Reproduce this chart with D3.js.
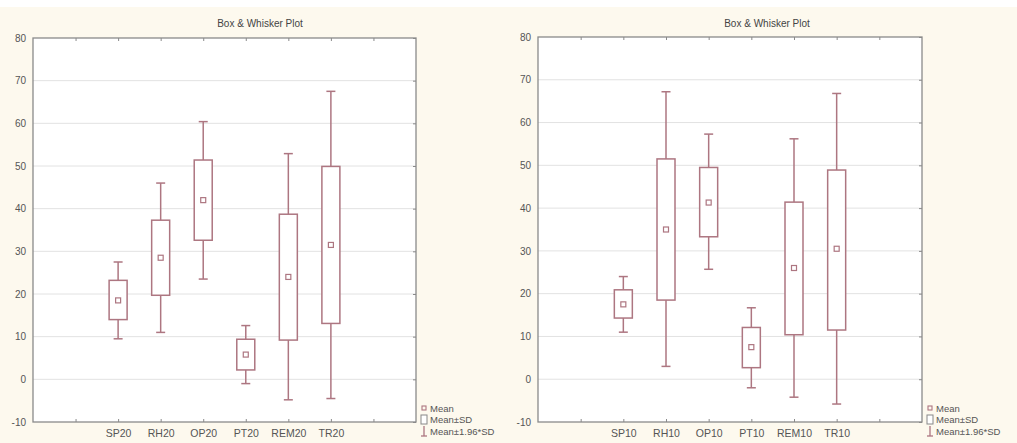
<!DOCTYPE html>
<html><head><meta charset="utf-8">
<script src="https://cdn.jsdelivr.net/npm/d3@7/dist/d3.min.js"></script>
<style>
html,body{margin:0;padding:0;background:#fff;}
svg{display:block;}
text{font-family:"Liberation Sans Narrow","Arial Narrow","Liberation Sans",Arial,sans-serif;}
</style></head>
<body>
<svg id="chart" width="1017" height="443"></svg>
<script>
const categoriesLeft = ["SP20","RH20","OP20","PT20","REM20","TR20"];
const meanLeft  = [18.5, 28.5, 42.0, 5.8, 24.0, 31.5];
const sdLoLeft  = [14.0, 19.7, 32.6, 2.2, 9.2, 13.1];
const sdHiLeft  = [23.2, 37.3, 51.4, 9.4, 38.7, 49.9];
const ciLoLeft  = [9.5, 11.0, 23.5, -1.0, -4.8, -4.5];
const ciHiLeft  = [27.5, 46.0, 60.4, 12.6, 52.9, 67.5];

const categoriesRight = ["SP10","RH10","OP10","PT10","REM10","TR10"];
const meanRight = [17.5, 35.0, 41.3, 7.5, 26.0, 30.5];
const sdLoRight = [14.3, 18.5, 33.3, 2.7, 10.4, 11.5];
const sdHiRight = [20.9, 51.5, 49.5, 12.1, 41.4, 48.9];
const ciLoRight = [11.0, 3.0, 25.7, -2.0, -4.2, -5.8];
const ciHiRight = [24.0, 67.2, 57.3, 16.7, 56.2, 66.8];

const yTicks = [-10, 0, 10, 20, 30, 40, 50, 60, 70, 80];
const titleText = "Box & Whisker Plot";
const legendLabels = ["Mean", "Mean\u00b1SD", "Mean\u00b11.96*SD"];

const svg = d3.select("#chart");
svg.append("rect").attr("x",0).attr("y",7).attr("width",1017).attr("height",436).attr("fill","#fdf9ee");

const boxColor = "#ad7681";
const axisColor = "#8a8a8a";
const gridColor = "#e2e2e2";
const textColor = "#555";

function panel(cfg){
  const {x0, x1, y0, y1, cats, mean, sdLo, sdHi, ciLo, ciHi, titleX} = cfg;
  const g = svg.append("g");
  const x = d3.scaleLinear().domain([0, 9]).range([x0, x1]);
  const y = d3.scaleLinear().domain([-10, 80]).range([y1, y0]);
  g.append("rect").attr("x",x0).attr("y",y0).attr("width",x1-x0).attr("height",y1-y0).attr("fill","#fff");
  g.selectAll("line.grid").data(yTicks.slice(1,-1)).join("line")
    .attr("x1",x0).attr("x2",x1).attr("y1",d=>y(d)).attr("y2",d=>y(d))
    .attr("stroke",gridColor).attr("stroke-width",1);
  const ax = g.append("g").attr("transform",`translate(${x0},0)`)
    .call(d3.axisLeft(y).tickValues(yTicks).tickSize(0).tickPadding(7).tickFormat(d => String(d)));
  ax.select(".domain").remove();
  ax.selectAll("text").attr("font-size",10).attr("fill",textColor);
  const xTickVals = d3.range(1,9);
  const bx = g.append("g").attr("transform",`translate(0,${y1})`)
    .call(d3.axisBottom(x).tickValues(xTickVals).tickSize(-3).tickPadding(8)
      .tickFormat(d => (d>=2 && d<=7) ? cats[d-2] : ""));
  bx.select(".domain").remove();
  bx.selectAll("line").attr("stroke",axisColor);
  bx.selectAll("text").attr("font-size",10.5).attr("fill",textColor);
  const tx = g.append("g").attr("transform",`translate(0,${y0})`)
    .call(d3.axisTop(x).tickValues(xTickVals).tickSize(-3).tickFormat(""));
  tx.select(".domain").remove();
  tx.selectAll("line").attr("stroke",axisColor);
  const ry = g.append("g").attr("transform",`translate(${x1},0)`)
    .call(d3.axisRight(y).tickValues(yTicks).tickSize(-3).tickFormat(""));
  ry.select(".domain").remove();
  ry.selectAll("line").attr("stroke",axisColor);
  g.append("rect").attr("x",x0).attr("y",y0).attr("width",x1-x0).attr("height",y1-y0)
    .attr("fill","none").attr("stroke",axisColor).attr("stroke-width",1.3);
  const data = cats.map((c,i)=>({i, pos:i+2, mean:mean[i], sdLo:sdLo[i], sdHi:sdHi[i], ciLo:ciLo[i], ciHi:ciHi[i]}));
  const bw = 18, cw = 9;
  const bg = g.selectAll("g.box").data(data).join("g");
  bg.append("line").attr("x1",d=>x(d.pos)).attr("x2",d=>x(d.pos))
    .attr("y1",d=>y(d.ciHi)).attr("y2",d=>y(d.ciLo)).attr("stroke",boxColor).attr("stroke-width",1.5);
  bg.append("line").attr("x1",d=>x(d.pos)-cw/2).attr("x2",d=>x(d.pos)+cw/2)
    .attr("y1",d=>y(d.ciHi)).attr("y2",d=>y(d.ciHi)).attr("stroke",boxColor).attr("stroke-width",1.5);
  bg.append("line").attr("x1",d=>x(d.pos)-cw/2).attr("x2",d=>x(d.pos)+cw/2)
    .attr("y1",d=>y(d.ciLo)).attr("y2",d=>y(d.ciLo)).attr("stroke",boxColor).attr("stroke-width",1.5);
  bg.append("rect").attr("x",d=>x(d.pos)-bw/2).attr("width",bw)
    .attr("y",d=>y(d.sdHi)).attr("height",d=>y(d.sdLo)-y(d.sdHi))
    .attr("fill","#fff").attr("stroke",boxColor).attr("stroke-width",1.5);
  bg.append("rect").attr("x",d=>x(d.pos)-2.5).attr("y",d=>y(d.mean)-2.5)
    .attr("width",5).attr("height",5).attr("fill","none").attr("stroke",boxColor).attr("stroke-width",1.2);
  g.append("text").attr("x",titleX).attr("y",27).attr("text-anchor","middle")
    .attr("font-size",10).attr("fill","#444").text(titleText);
  const lx = x1 + 8, ly = 408;
  const lg = g.append("g");
  lg.append("rect").attr("x",lx-2).attr("y",ly-2).attr("width",4).attr("height",4)
    .attr("fill","none").attr("stroke",boxColor).attr("stroke-width",1.1);
  lg.append("rect").attr("x",lx-3).attr("y",ly+7).attr("width",6).attr("height",9)
    .attr("fill","#fff").attr("stroke","#888").attr("stroke-width",1);
  lg.append("line").attr("x1",lx).attr("x2",lx).attr("y1",ly+18).attr("y2",ly+28).attr("stroke",boxColor).attr("stroke-width",1.3);
  lg.append("line").attr("x1",lx-3).attr("x2",lx+3).attr("y1",ly+28).attr("y2",ly+28).attr("stroke",boxColor).attr("stroke-width",1.3);
  lg.selectAll("text").data(legendLabels).join("text")
    .attr("x",lx+6).attr("y",(d,i)=>ly+3.5+i*11.5).attr("font-size",9.5).attr("fill",textColor).text(d=>d);
}

panel({x0:33, x1:416, y0:38, y1:422, cats:categoriesLeft, mean:meanLeft, sdLo:sdLoLeft, sdHi:sdHiLeft, ciLo:ciLoLeft, ciHi:ciHiLeft, titleX:260});
panel({x0:538, x1:922, y0:37, y1:422, cats:categoriesRight, mean:meanRight, sdLo:sdLoRight, sdHi:sdHiRight, ciLo:ciLoRight, ciHi:ciHiRight, titleX:767});
</script>
</body></html>
